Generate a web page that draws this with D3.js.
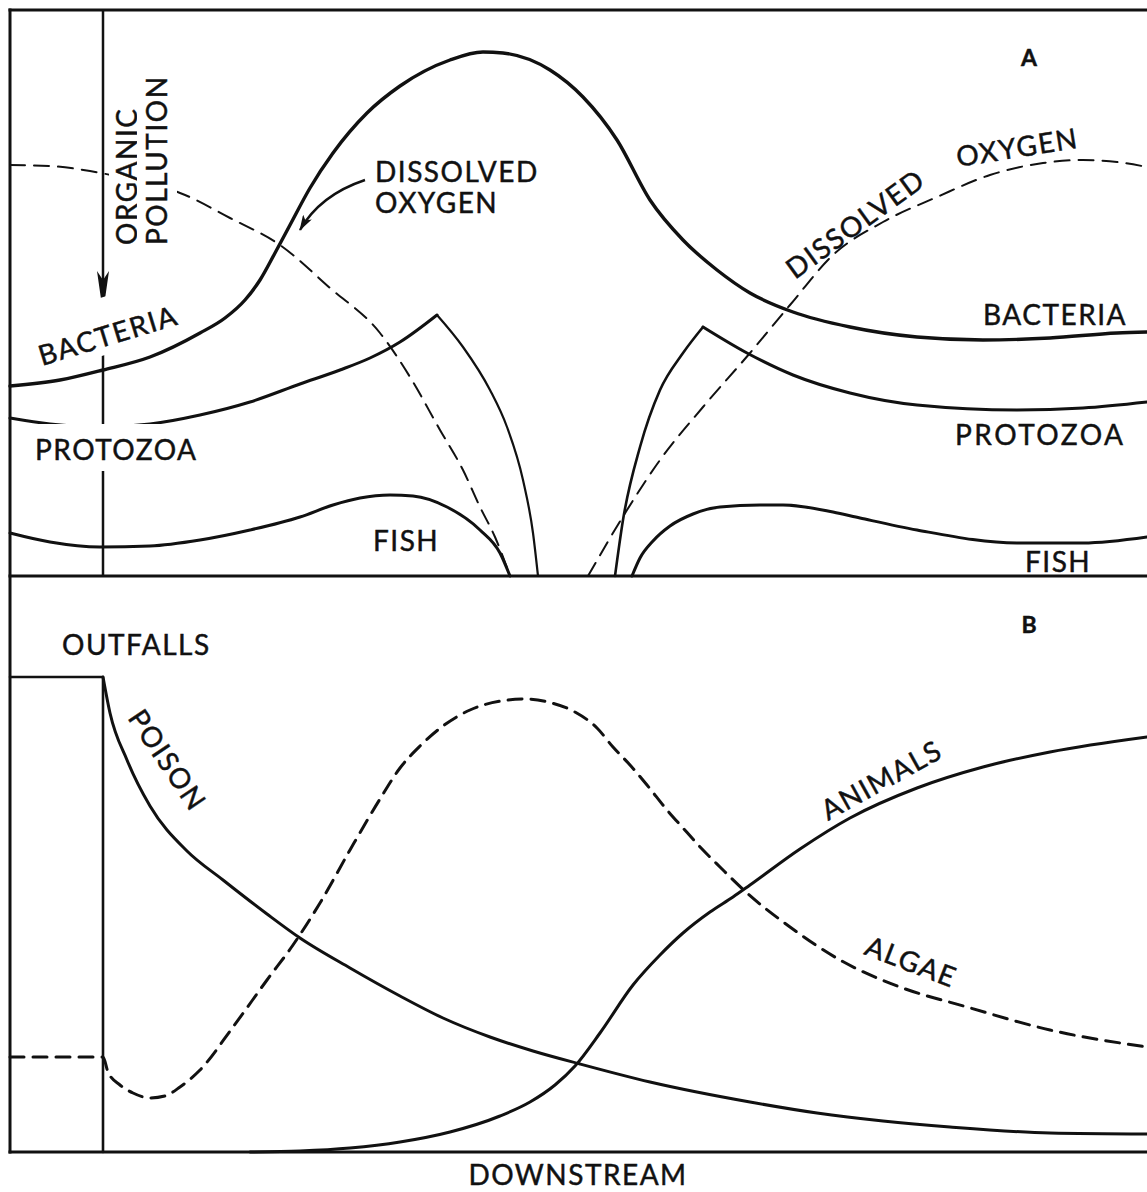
<!DOCTYPE html>
<html>
<head>
<meta charset="utf-8">
<script src="https://cdn.jsdelivr.net/npm/d3@7"></script>
<style>
  html, body { margin: 0; padding: 0; background: #fff; }
  svg { display: block; }
  text { font-family: "Lato", "Noto Sans", sans-serif; fill: #111; stroke: #111; stroke-width: 0.45; }
</style>
</head>
<body>
<svg id="chart" width="1147" height="1192"></svg>
<script>
// Distance downstream (x) is shared by both panels; the outfall sits at x = 9.3.
const outfallX = 9.3;

// ---- Panel A: organic pollution, relative levels ----
const oxygenAbove = [[0,41.1],[4,41.0],[8,40.5],[13,39.4],[17,38.3],[22,35.8],[27,33.1],[32,28.8],
  [37,24.3],[40,19.9],[43,14.6],[45.3,10.6],[47,6.9],[48.5,3.9],[50,0]];
const oxygenRecovery = [[57.8,0],[61.7,6.6],[65,11.6],[69.3,16.9],[74,22.3],[78,27.1],[82.3,32.1],
  [87.3,35.4],[92.7,37.9],[98,40.1],[103.3,41.3],[107.3,41.6],[110.7,41.4],[113.7,40.9]];
const bacteria = [[0,19.0],[5,19.6],[9.3,20.6],[14,21.9],[19,24.3],[21.5,25.8],[23.5,27.6],[25,29.6],
  [26.5,32.3],[28,35.1],[30,38.8],[32.3,42.3],[35.7,46.3],[39,49.0],[44,51.6],[47.3,52.4],[49.3,52.3],
  [54,50.6],[57.3,47.9],[60.7,43.6],[64,37.6],[67.3,33.6],[70.7,30.6],[74,28.3],[78.3,26.4],[84,24.9],
  [90.7,23.9],[97.3,23.6],[104,23.8],[110.7,24.3],[113.7,24.4]];
const protozoaRise = [[0,15.8],[4,15.2],[9,14.9],[14,15.2],[19,16.1],[24,17.4],[29,19.2],[33,20.6],
  [36,21.8],[39,23.4],[42.7,26.1]];
const protozoaCollapse = [[42.7,26.1],[45.3,22.9],[48,18.6],[49.7,14.9],[51.3,9.6],[52.3,4.3],[52.8,0]];
const protozoaReturn = [[60.5,0],[61.3,5.6],[63,12.9],[65,18.6],[67.3,22.3],[69.3,24.9]];
const protozoaRecovery = [[69.3,24.9],[73.7,22.3],[78.3,20.1],[84,18.3],[90.7,17.1],[100.7,16.6],
  [107.3,16.8],[113.7,17.4]];
const fishAbove = [[0,4.3],[4,3.4],[9,2.9],[14,3.0],[19,3.6],[24,4.6],[29,5.9],[32.3,7.1],[35,7.8],
  [38,8.1],[40.3,8.0],[43.7,6.9],[47,4.6],[49,2.3],[50,0]];
const fishRecovery = [[62.2,0],[63,1.8],[64.3,3.5],[66,5.0],[68.3,6.2],[71,6.9],[75,7.1],[77.3,7.1],
  [82.3,6.4],[85,5.8],[90.7,4.6],[100.7,3.3],[107.3,3.3],[113.7,3.9]];

// ---- Panel B: poisonous effluent ----
const outfallLoad = [[0,47.5],[9.3,47.5],[9.3,0]];
const poison = [[9.3,47.5],[10,43.9],[11.7,39.2],[14,34.6],[17.7,30.1],[21.3,27.2],[25.7,23.8],
  [29,21.4],[34,18.4],[39,15.6],[43.3,13.4],[48,11.5],[52.3,10.1],[57,8.8],[64,7.0],[74,5.0],
  [80.7,3.9],[87.3,3.1],[94,2.5],[104,1.9],[113.7,1.8]];
const algae = [[0,9.5],[5,9.5],[9.3,9.5],[9.8,8.0],[11,6.7],[12.3,5.9],[14,5.4],[15.5,5.6],[17,6.5],
  [19,8.2],[22.3,12.5],[25.7,17.2],[28.3,20.7],[31,24.9],[34,30.2],[37,35.3],[39,38.4],[41,40.6],
  [43.3,42.6],[46,44.2],[49.1,45.1],[51.6,45.3],[54.2,44.9],[56.5,44.0],[58.7,42.4],[60.3,40.5],
  [62,38.7],[63.7,36.7],[65.7,34.2],[67.3,32.4],[69.3,30.2],[71,28.5],[73.7,25.9],[78,22.5],[83,19.2],
  [89,16.5],[95.7,14.5],[104,12.2],[113.7,10.5]];
const animals = [[24,0],[29,0.1],[34,0.4],[39,1.0],[44,2.0],[49,3.6],[52,5.0],[54.5,6.7],[56.5,8.6],
  [59,11.9],[62.3,16.7],[65,19.7],[67.3,21.9],[70,24.0],[72.3,25.5],[74,26.7],[79,30.3],[84,33.4],
  [90.7,36.4],[97.3,38.5],[104,40.0],[113.7,41.5]];

// Text
const panelLetters = ["A", "B"];
const pollutionLabel = ["ORGANIC", "POLLUTION"];
const oxygenLabel = ["DISSOLVED", "OXYGEN"];
const axisTitle = "DOWNSTREAM";

const W = 1147, H = 1192;
const svg = d3.select("#chart");

const x = d3.scaleLinear().domain([0, 114]).range([10, 1150]);
const yA = d3.scaleLinear().domain([0, 56.6]).range([576, 10]);
const yB = d3.scaleLinear().domain([0, 57.6]).range([1152, 576]);

const smooth = d3.curveMonotoneX;
const lineA = d3.line().x(d => x(d[0])).y(d => yA(d[1])).curve(smooth);
const lineB = d3.line().x(d => x(d[0])).y(d => yB(d[1])).curve(smooth);
const lineBStraight = d3.line().x(d => x(d[0])).y(d => yB(d[1]));

const ink = "#111";

// Arrowhead marker for the annotation arrow
svg.append("defs").append("marker")
  .attr("id", "head")
  .attr("viewBox", "0 0 16 10")
  .attr("refX", 15).attr("refY", 5)
  .attr("markerWidth", 16).attr("markerHeight", 10)
  .attr("markerUnits", "userSpaceOnUse")
  .attr("orient", "auto")
  .append("path")
  .attr("d", "M0,0 L16,5 L0,10 L4,5 Z")
  .attr("fill", ink);

const linesG = svg.append("g");
const labelG = svg.append("g");

function curve(gen, data, width, dash) {
  linesG.append("path")
    .attr("d", gen(data))
    .attr("fill", "none")
    .attr("stroke", ink)
    .attr("stroke-width", width)
    .attr("stroke-linecap", "round")
    .attr("stroke-linejoin", "round")
    .attr("stroke-dasharray", dash || null);
}

// Frame
const left = x(0), right = W + 5;
[[left, yA(56.6), right, yA(56.6)], [left, yA(0), right, yA(0)], [left, yB(0), right, yB(0)],
 [left, yA(56.6), left, yB(0)]].forEach(([x1, y1, x2, y2]) => {
  linesG.append("line").attr("x1", x1).attr("y1", y1).attr("x2", x2).attr("y2", y2)
    .attr("stroke", ink).attr("stroke-width", 3).attr("stroke-linecap", "square");
});

// Panel A: outfall marker with its downward arrow
const ox = x(outfallX);
const arrowTip = yA(26.3);
linesG.append("line").attr("x1", ox).attr("x2", ox).attr("y1", yA(56.6)).attr("y2", yA(0))
  .attr("stroke", ink).attr("stroke-width", 2.5);
linesG.append("path")
  .attr("d", `M${ox},${arrowTip} L${ox - 6},${arrowTip - 42} L${ox},${arrowTip - 33} L${ox + 6},${arrowTip - 42} Z`)
  .attr("fill", ink);

// Panel A curves
curve(lineA, oxygenAbove, 2, "15 9");
curve(lineA, oxygenRecovery, 2, "15 9");
curve(lineA, bacteria, 3.4);
curve(lineA, protozoaRise, 3);
curve(lineA, protozoaCollapse, 2.2);
curve(lineA, protozoaReturn, 2.6);
curve(lineA, protozoaRecovery, 3);
curve(lineA, fishAbove, 3);
curve(lineA, fishRecovery, 3);

// Panel B curves
curve(lineBStraight, outfallLoad, 2.6);
curve(lineB, poison, 3);
curve(lineB, algae, 3, "14 9");
curve(lineB, animals, 3);

// Annotation arrow pointing at the oxygen sag
linesG.append("path")
  .attr("d", `M${x(35.5)},${yA(39.6)} Q${x(31)},${yA(38.1)} ${x(29)},${yA(34.6)}`)
  .attr("fill", "none").attr("stroke", ink).attr("stroke-width", 2.4)
  .attr("marker-end", "url(#head)");

// Labels (white knock-out behind the ones that sit on lines)
function label(txt, px, py, opts = {}) {
  const g = labelG.append("g").attr("transform", `translate(${px},${py}) rotate(${opts.rotate || 0})`);
  const t = g.append("text").text(txt)
    .attr("font-size", opts.size || 28)
    .attr("font-weight", opts.weight || 400)
    .attr("letter-spacing", opts.spacing != null ? opts.spacing : 1.5)
    .attr("text-anchor", opts.anchor || "start");
  if (opts.knock) {
    const b = t.node().getBBox();
    const [pt, pr, pb, pl] = opts.knock;
    g.insert("rect", "text")
      .attr("x", b.x - pl).attr("y", b.y - pt)
      .attr("width", b.width + pl + pr).attr("height", b.height + pt + pb)
      .attr("fill", "#fff");
  }
  return t;
}

// Panel A labels
label(panelLetters[0], x(101.9), yA(51.0), { anchor: "middle", weight: 700, size: 23, spacing: 0 });
label(pollutionLabel[0], x(12.7), yA(33.1), { rotate: -90, knock: [0, 8, 6, 2] });
label(pollutionLabel[1], x(15.7), yA(33.1), { rotate: -90, knock: [2, 8, 4, 2] });
label(oxygenLabel[0], x(36.5), yA(39.4));
label(oxygenLabel[1], x(36.5), yA(36.3));
label("BACTERIA", x(3.2), yA(21.0), { rotate: -17, knock: [20, 4, 2, 4] });
label("PROTOZOA", x(2.5), yA(11.6), { knock: [8, 4, 5, 4] });
label("FISH", x(36.3), yA(2.5));
label("BACTERIA", x(97.3), yA(25.1));
label("PROTOZOA", x(94.5), yA(13.1), { spacing: 2.5 });
label("FISH", x(101.5), yA(0.4));
label(oxygenLabel[0], x(78.5), yA(29.6), { rotate: -36 });
label(oxygenLabel[1], x(94.8), yA(40.9), { rotate: -9 });

// Panel B labels
label(panelLetters[1], x(101.9), yB(51.9), { anchor: "middle", weight: 700, size: 23, spacing: 0 });
label("OUTFALLS", x(5.2), yB(49.7));
label("POISON", x(11.7), yB(43.4), { rotate: 56 });
label("ANIMALS", x(81.8), yB(33.1), { rotate: -29 });
label("ALGAE", x(85.3), yB(19.8), { rotate: 21 });
label(axisTitle, x(56.8), yB(-3.3), { anchor: "middle" });
</script>
</body>
</html>
